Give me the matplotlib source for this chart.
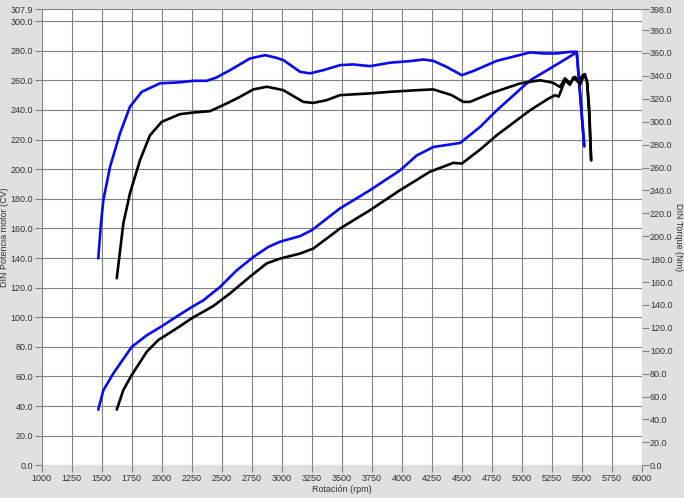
import matplotlib.pyplot as plt

plt.rcParams['font.family'] = ['Liberation Sans', 'DejaVu Sans']

# potencia (CV) - eje izquierdo
rpm_pot_azul = [1473, 1515, 1598, 1752, 1877, 2002, 2098, 2252, 2348, 2487, 2627, 2765,
                2890, 2987, 3154, 3252, 3487, 3737, 3987, 4127, 4265, 4488, 4654, 4793,
                5071, 5210, 5348, 5460, 5523]
pot_azul = [37.6, 50.6, 62.0, 80.0, 87.8, 93.9, 99.0, 106.9, 111.4, 120.4, 131.7, 140.7,
            147.5, 151.0, 154.8, 158.8, 173.5, 185.8, 199.2, 209.3, 215.0, 217.7, 228.5, 239.7,
            260.0, 266.7, 273.4, 279.0, 215.4]

rpm_pot_negro = [1627, 1682, 1752, 1877, 1973, 2127, 2252, 2432, 2571, 2737, 2877, 2987,
                 3154, 3265, 3487, 3737, 3987, 4237, 4432, 4502, 4654, 4793, 5071, 5223,
                 5280, 5310, 5362, 5404, 5432, 5473, 5510, 5529, 5548, 5565, 5580]
pot_negro = [37.6, 50.9, 61.0, 76.7, 84.6, 92.5, 99.3, 107.6, 116.1, 127.4, 136.4, 139.6,
             143.0, 146.4, 159.9, 172.3, 185.8, 198.3, 204.3, 203.8, 213.2, 222.9, 239.8, 247.6,
             250.0, 249.0, 260.1, 257.0, 262.0, 259.0, 263.5, 264.2, 257.9, 235.0, 206.0]

# torque (Nm) - eje derecho
rpm_par_azul = [1473, 1493, 1515, 1571, 1654, 1737, 1835, 1987, 2154, 2265, 2377, 2460,
                2571, 2737, 2862, 2950, 3015, 3154, 3237, 3348, 3488, 3598, 3738, 3904,
                4071, 4182, 4265, 4377, 4502, 4599, 4793, 5071, 5182, 5293, 5404, 5460, 5523]
par_azul = [180.7, 208.2, 231.5, 260.6, 289.8, 313.1, 326.1, 333.5, 334.4, 335.7, 335.7, 338.7,
            345.0, 355.2, 358.1, 356.0, 353.8, 343.6, 342.2, 345.0, 349.4, 350.0, 348.5, 351.5,
            352.9, 354.3, 353.1, 347.8, 340.6, 344.3, 353.1, 360.5, 359.6, 359.6, 361.0, 361.0, 278.7]

rpm_par_negro = [1627, 1682, 1737, 1821, 1904, 2002, 2154, 2265, 2404, 2543, 2654, 2765,
                 2877, 2950, 3015, 3182, 3265, 3376, 3488, 3738, 3904, 4127, 4265, 4418,
                 4515, 4571, 4738, 4988, 5154, 5260, 5321, 5362, 5404, 5446, 5487, 5521,
                 5545, 5565, 5580]
par_negro = [163.3, 211.2, 237.5, 266.5, 288.2, 299.9, 306.6, 308.0, 309.2, 315.9, 321.7, 328.2,
             330.5, 329.0, 327.5, 317.3, 316.4, 318.8, 323.2, 324.7, 326.1, 327.5, 328.2, 323.2,
             317.3, 317.3, 324.6, 333.4, 336.2, 334.1, 330.3, 337.8, 333.5, 339.2, 332.2, 340.6,
             336.1, 310.2, 266.3]

xticks = list(range(1000, 6001, 250))
yticks_izq = list(range(0, 301, 20)) + [307.9]
yticks_der = list(range(0, 381, 20)) + [398.0]

fig = plt.figure(figsize=(6.84, 4.98), dpi=100, facecolor='#e0e0e0')
ax = fig.add_axes([0.0607, 0.0657, 0.8772, 0.9153])
ax.set_facecolor('white')
ax2 = ax.twinx()

azul = '#0a0af0'
estilo = dict(lw=1.9, solid_joinstyle='round', solid_capstyle='round')
ax.plot(rpm_pot_azul, pot_azul, color=azul, zorder=3, **estilo)
ax.plot(rpm_pot_negro, pot_negro, color='black', zorder=3, **estilo)
ax2.plot(rpm_par_azul, par_azul, color=azul, **estilo)
ax2.plot(rpm_par_negro, par_negro, color='black', **estilo)

ax.set_xlim(1000, 6000)
ax.set_ylim(0, 307.9)
ax2.set_ylim(0, 398.0)

ax.set_xticks(xticks)
ax.set_yticks(yticks_izq)
ax.set_yticklabels(['%.1f' % v for v in yticks_izq])
ax2.set_yticks(yticks_der)
ax2.set_yticklabels(['%.1f' % v for v in yticks_der])

ax.grid(True, color='#808080', lw=0.8)
for a in (ax, ax2):
    a.tick_params(labelsize=6.5, length=5, width=0.8, color='#808080', pad=1, labelcolor='#333333')
    for s in a.spines.values():
        s.set_visible(False)

ax.set_xlabel('Rotación (rpm)', fontsize=6.5, labelpad=2, color='#333333')
ax.set_ylabel('DIN Potencia motor (CV)', fontsize=6.5, color='#333333')
ax2.set_ylabel('DIN Torque (Nm)', fontsize=6.5, rotation=270, color='#333333')
ax.yaxis.set_label_coords(-0.061, 0.5)
ax2.yaxis.set_label_coords(1.062, 0.5)
ax2.yaxis.label.set_va('center')
ax.yaxis.label.set_va('center')

fig.savefig('out.png', dpi=100, facecolor=fig.get_facecolor())
